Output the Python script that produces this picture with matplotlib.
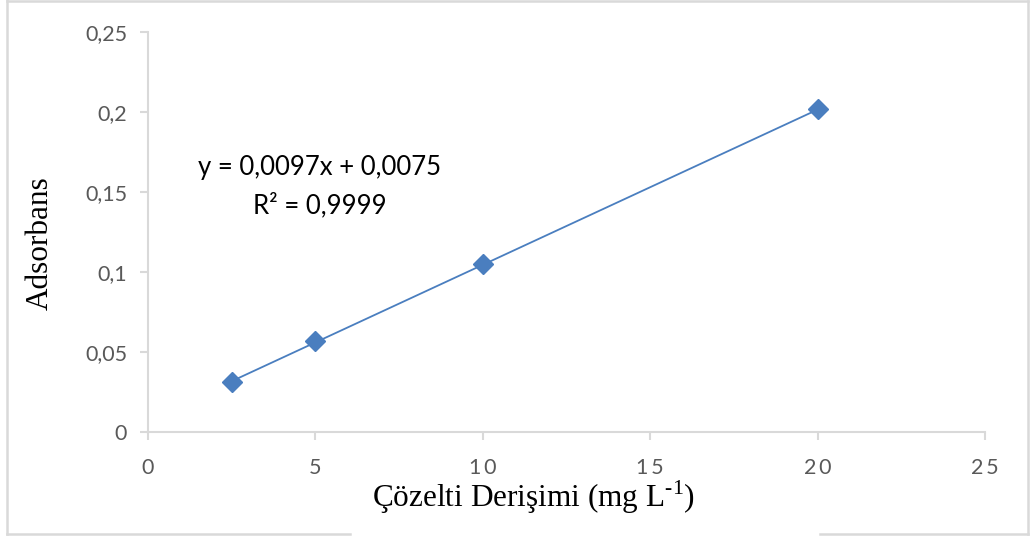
import numpy as np
import matplotlib
matplotlib.use('Agg')
import matplotlib.pyplot as plt
from matplotlib.lines import Line2D

# calibration data
conc = [2.5, 5, 10, 20]          # mg/L
absorb = [0.031, 0.057, 0.105, 0.202]

# linear trendline
slope = 0.0097
intercept = 0.0075
r2 = 0.9999

xticks = [0, 5, 10, 15, 20, 25]
yticks = [0, 0.05, 0.1, 0.15, 0.2, 0.25]

blue = '#4a7ebf'
gridGray = '#d9d9d9'
tickCol = '#595959'

plt.rcParams['font.family'] = ['Lato', 'DejaVu Sans']

fig = plt.figure(figsize=[10.30, 5.36], dpi=100)
ax = fig.add_axes([148/1030, 104/536, 837/1030, 400/536])

xfit = np.array([min(conc), max(conc)])
ax.plot(xfit, slope*xfit+intercept, color=blue, linewidth=1.3, zorder=2)
ax.plot(conc, absorb, linestyle='none', marker='D', markersize=10.5,
        color=blue, markeredgecolor=blue, zorder=3)

ax.set_xlim(0, 25)
ax.set_ylim(0, 0.25)
ax.set_xticks(xticks)
ax.set_yticks(yticks)
ax.set_xticklabels(['\u2009'.join(str(t)) for t in xticks])
ax.set_yticklabels([('%g' % t).replace('.', ',') for t in yticks])

for s in ['top', 'right']:
    ax.spines[s].set_visible(False)
for s in ['left', 'bottom']:
    ax.spines[s].set_color(gridGray)
    ax.spines[s].set_linewidth(1.5)
ax.tick_params(axis='both', which='major', direction='out', length=6,
               width=1.5, color=gridGray, labelcolor=tickCol, labelsize=15.5)
ax.tick_params(axis='y', pad=9)
ax.tick_params(axis='x', pad=13)

ax.text(0.2055, 0.66, 'y = %s' % ('%.4fx + %.4f' % (slope, intercept)).replace('.', ','),
        transform=ax.transAxes, ha='center', va='center', fontsize=18.5, color='black')
ax.text(0.2055, 0.5675, 'R² = %s' % ('%.4f' % r2).replace('.', ','),
        transform=ax.transAxes, ha='center', va='center', fontsize=18.5, color='black')

fig.text(533/1030, 1-497/536, 'Çözelti Derişimi (mg L$^{\\mathregular{\u20101}}$)',
         family='Liberation Serif', fontsize=22.5, ha='center', va='center')
fig.text(40/1030, 1-243/536, 'Adsorbans', family='Liberation Serif', fontsize=22.5,
         rotation=90, ha='center', va='center')

# outer frame of the chart area
W, H = 1030.0, 536.0
frame = [((7, 7), (0, 534)), ((7, 1028), (1, 1)), ((1028, 1028), (1, 534)),
         ((7, 350), (534, 534)), ((820, 1028), (534, 534))]
for xs, ys in frame:
    fig.add_artist(Line2D([x/W for x in xs], [1-y/H for y in ys],
                          color=gridGray, linewidth=1.8))

fig.savefig('out.png', dpi=100)
